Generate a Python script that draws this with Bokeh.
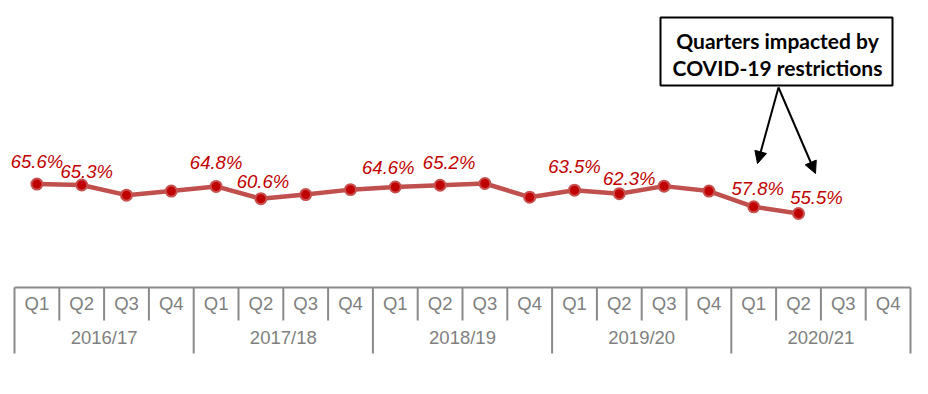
from bokeh.plotting import figure
from bokeh.models import (FactorRange, Range1d, ColumnDataSource, BoxAnnotation,
                          Arrow, NormalHead, LinearScale)
from bokeh.core.properties import value
from bokeh.embed import file_html
from bokeh.resources import INLINE

# ---------------- data ----------------
years = ["2016/17", "2017/18", "2018/19", "2019/20", "2020/21"]
quarters = ["Q1", "Q2", "Q3", "Q4"]
# values from 2016/17 Q1 to 2020/21 Q2 (percent)
rates = [65.6, 65.3, 61.8, 63.2,
         64.8, 60.6, 62.0, 63.7,
         64.6, 65.2, 65.8, 61.1,
         63.5, 62.3, 64.9, 63.2,
         57.8, 55.5]
# points that carry a data label (Q1 and Q2 of each year)
labelled_quarters = ["Q1", "Q2"]
callout_lines = ["Quarters impacted by", "COVID-19 restrictions"]

# ---------------- styling / layout ----------------
label_dx = [0, 5, 0, 2, -7, 9, 0, 10, 4, 18]
label_dy = [-23, -13, -24, -17, -20, -23, -24, -15, -18, -16]

factors = [(y, q) for y in years for q in quarters]
point_factors = factors[:len(rates)]

CELL = 44.8          # pixel width of one quarter cell
PAD = 14             # pixels between frame edge and table edge
W, H = int(round(len(factors) * CELL + 2 * PAD)), 386


def sx(px):
    """page x pixel -> synthetic categorical coordinate"""
    return (px - PAD) / CELL


p = figure(width=W, height=H, output_backend="svg", toolbar_location=None,
           x_range=FactorRange(factors=factors, factor_padding=0, group_padding=0,
                               subgroup_padding=0, range_padding=PAD / CELL,
                               range_padding_units="absolute"),
           y_range=Range1d(65.6 - (H - 183.6) / 2.91, 65.6 + 183.6 / 2.91),
           min_border=0, outline_line_color=None)
p.axis.visible = False
p.grid.visible = False
# pixel-like coordinate system for the table and call-out (screen y grows down)
p.extra_y_ranges = {"px": Range1d(start=H, end=0)}
p.extra_y_scales = {"px": LinearScale()}

# ---------------- category table under the chart ----------------
n = len(factors)
grey = "#8a8a8a"
top_y, q_bot, yr_bot = 287, 320, 353
p.segment(x0=[0], x1=[n], y0=[top_y], y1=[top_y], y_range_name="px",
          line_color=grey, line_width=2)
qsep = [i for i in range(1, n) if i % len(quarters)]
p.segment(x0=qsep, x1=qsep, y0=[top_y] * len(qsep), y1=[q_bot] * len(qsep),
          y_range_name="px", line_color=grey, line_width=2)
ysep = list(range(0, n + 1, len(quarters)))
p.segment(x0=ysep, x1=ysep, y0=[top_y] * len(ysep), y1=[yr_bot] * len(ysep),
          y_range_name="px", line_color=grey, line_width=2)
p.text(x=factors, y=[303] * n, text=[q for _, q in factors], y_range_name="px",
       text_align="center", text_baseline="middle", text_color="#808080",
       text_font=value("Liberation Sans"), text_font_size="18.5px")
p.text(x=years, y=[337] * len(years), text=years, y_range_name="px",
       text_align="center", text_baseline="middle", text_color="#808080",
       text_font=value("Liberation Sans"), text_font_size="18.5px")

# ---------------- data line ----------------
src = ColumnDataSource(dict(x=point_factors, y=rates))
p.line("x", "y", source=src, line_color="#C0504D", line_width=4.5)
p.scatter("x", "y", source=src, size=11, fill_color="#C00000",
          line_color="#C8504F", line_width=2)

lab_idx = [i for i, f in enumerate(point_factors) if f[1] in labelled_quarters]
lab_src = ColumnDataSource(dict(
    x=[point_factors[i] for i in lab_idx],
    y=[rates[i] for i in lab_idx],
    t=[f"{rates[i]:.1f}%" for i in lab_idx],
    dx=label_dx, dy=label_dy))
p.text("x", "y", text="t", source=lab_src, x_offset="dx", y_offset="dy",
       text_align="center", text_baseline="middle", text_color="#C00000",
       text_font=value("Liberation Sans"), text_font_style="italic",
       text_font_size="18.5px")

# ---------------- call-out ----------------
p.add_layout(BoxAnnotation(left=sx(660), right=sx(892), top=17, bottom=85,
                           y_range_name="px", level="underlay",
                           fill_color="white", fill_alpha=1,
                           line_color="black", line_alpha=1, line_width=2))
p.text(x=[sx(777), sx(777)], y=[40, 67], text=callout_lines,
       y_range_name="px", text_align="center", text_baseline="middle",
       text_color="black", text_font=value("Lato"), text_font_style="bold",
       text_font_size="21px")
for xe, ye in [(757, 163), (815, 173)]:
    p.add_layout(Arrow(x_start=sx(778), y_start=87, x_end=sx(xe), y_end=ye,
                       y_range_name="px",
                       line_color="black", line_width=2,
                       end=NormalHead(size=12, fill_color="black",
                                      line_color="black")))

open("out.html", "w").write(file_html(p, INLINE))
